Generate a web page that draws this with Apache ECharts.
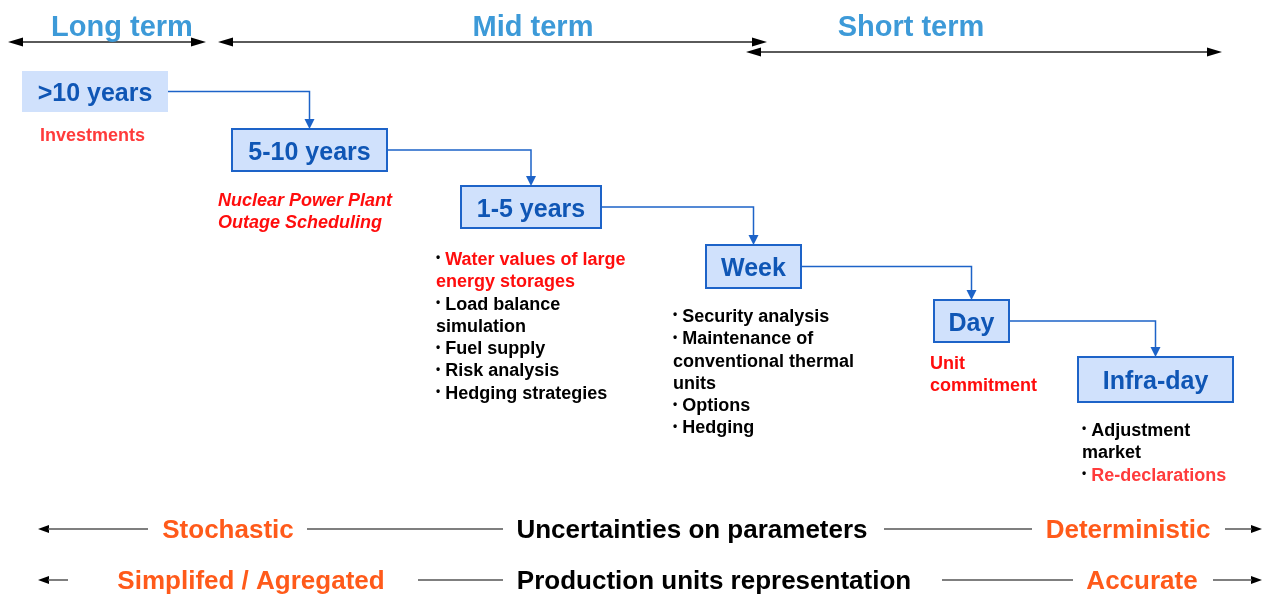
<!DOCTYPE html>
<html><head><meta charset="utf-8">
<script src="https://cdn.jsdelivr.net/npm/echarts@6/dist/echarts.min.js"></script>
<style>html,body{margin:0;padding:0;background:#fff}#chart{width:1271px;height:594px}</style>
</head><body><div id="chart"></div>
<script>
// ---------- data ----------
const termLabels = ['Long term', 'Mid term', 'Short term'];
const termLabelX = [122, 533, 911];
const termArrowX0 = [8, 218, 746];
const termArrowX1 = [206, 767, 1222];
const termArrowY = [42, 42, 52];

const stageLabels = ['>10 years', '5-10 years', '1-5 years', 'Week', 'Day', 'Infra-day'];
const stageX0 = [22, 232, 461, 706, 934, 1078];
const stageY0 = [71, 129, 186, 245, 300, 357];
const stageX1 = [168, 387, 601, 801, 1009, 1233];
const stageY1 = [112, 171, 228, 288, 342, 402];

const noteX = [40, 218, 436, 673, 930, 1082];
const noteY = [134, 199, 258, 315, 362, 429];
const noteLines = [
  ['Investments'],
  ['Nuclear Power Plant', 'Outage Scheduling'],
  ['• Water values of large', 'energy storages', '• Load balance', 'simulation', '• Fuel supply', '• Risk analysis', '• Hedging strategies'],
  ['• Security analysis', '• Maintenance of', 'conventional thermal', 'units', '• Options', '• Hedging'],
  ['Unit', 'commitment'],
  ['• Adjustment', 'market', '• Re-declarations']
];
const noteTone = [
  ['soft'],
  ['alertItalic', 'alertItalic'],
  ['alert', 'alert', 'plain', 'plain', 'plain', 'plain', 'plain'],
  ['plain', 'plain', 'plain', 'plain', 'plain', 'plain'],
  ['alert', 'alert'],
  ['plain', 'plain', 'soft']
];

const scaleLeft = ['Stochastic', 'Simplifed / Agregated'];
const scaleMid = ['Uncertainties on parameters', 'Production units representation'];
const scaleRight = ['Deterministic', 'Accurate'];
const scaleY = [529, 580];
const scaleLeftX = [228, 251];
const scaleMidX = [692, 714];
const scaleRightX = [1128, 1142];
const scaleSegments = [
  [[38, 148], [307, 503], [884, 1032], [1225, 1262]],
  [[38, 68], [418, 503], [942, 1073], [1213, 1262]]
];

// ---------- style ----------
const FONT = '"Liberation Sans", Arial, Helvetica, sans-serif';
const C = {
  term: '#3d9ad8', boxFill: '#d0e1fc', boxStroke: '#1d63c8', boxText: '#0f56b5',
  conn: '#1d63c8', alert: '#ff0d0d', soft: '#ff3b3b', plain: '#000000',
  orange: '#ff5a1a', axisLine: '#555555', head: '#000000'
};
const LINE_STEP = 22.3;

function head(tip, dir, L, Wd, color) {
  const [tx, ty] = tip, [dx, dy] = dir, nx = -dy, ny = dx;
  return { type: 'polygon', shape: { points: [[tx, ty], [tx - dx * L + nx * Wd, ty - dy * L + ny * Wd], [tx - dx * L - nx * Wd, ty - dy * L - ny * Wd]] }, style: { fill: color } };
}

const chart = echarts.init(document.getElementById('chart'), null, { renderer: 'canvas' });

const termData = termLabels.map((_, i) => [termArrowX0[i], termArrowY[i], termArrowX1[i], i]);
const stageData = stageLabels.map((_, i) => [stageX0[i], stageY0[i], stageX1[i], stageY1[i], i]);
const connData = stageLabels.slice(1).map((_, i) =>
  [stageX1[i], (stageY0[i] + stageY1[i]) / 2, (stageX0[i + 1] + stageX1[i + 1]) / 2, stageY0[i + 1]]);
const noteData = noteLines.map((_, i) => [noteX[i], noteY[i], i]);
const scaleData = scaleY.map((y, i) => [scaleMidX[i], y, i]);

chart.setOption({
  animation: false,
  grid: { left: 0, right: 0, top: 0, bottom: 0 },
  xAxis: { type: 'value', min: 0, max: 1271, show: false },
  yAxis: { type: 'value', min: 0, max: 594, inverse: true, show: false },
  series: [
    { // term arrows + titles
      type: 'custom', clip: false, data: termData, encode: { x: [0, 2], y: 1 },
      renderItem(params, api) {
        const i = api.value(3);
        const a = api.coord([api.value(0), api.value(1)]);
        const b = api.coord([api.value(2), api.value(1)]);
        const L = 15, Wd = 4.5;
        const t = api.coord([termLabelX[i], 25]);
        return { type: 'group', children: [
          { type: 'line', shape: { x1: a[0] + L - 1, y1: a[1], x2: b[0] - L + 1, y2: b[1] }, style: { stroke: '#5a5a5a', lineWidth: 2 } },
          head(a, [-1, 0], L, Wd, C.head),
          head(b, [1, 0], L, Wd, C.head),
          { type: 'text', x: t[0], y: t[1] + 3, style: { text: termLabels[i], font: 'bold 29px ' + FONT, fill: C.term, align: 'center', verticalAlign: 'middle' } }
        ] };
      }
    },
    { // connectors
      type: 'custom', clip: false, data: connData, encode: { x: [0, 2], y: [1, 3] },
      renderItem(params, api) {
        const a = api.coord([api.value(0), api.value(1)]);
        const b = api.coord([api.value(2), api.value(1)]);
        const c = api.coord([api.value(2), api.value(3)]);
        return { type: 'group', children: [
          { type: 'polyline', shape: { points: [a, b, [c[0], c[1] - 9]] }, style: { stroke: C.conn, lineWidth: 1.5, fill: null } },
          head(c, [0, 1], 10, 5, C.conn)
        ] };
      }
    },
    { // stage boxes
      type: 'custom', clip: false, data: stageData, encode: { x: [0, 2], y: [1, 3] },
      renderItem(params, api) {
        const i = api.value(4);
        const p0 = api.coord([api.value(0), api.value(1)]);
        const p1 = api.coord([api.value(2), api.value(3)]);
        const bordered = i > 0;
        return { type: 'group', children: [
          { type: 'rect', shape: { x: p0[0], y: p0[1], width: p1[0] - p0[0], height: p1[1] - p0[1] },
            style: { fill: C.boxFill, stroke: bordered ? C.boxStroke : null, lineWidth: 2 } },
          { type: 'text', x: (p0[0] + p1[0]) / 2, y: (p0[1] + p1[1]) / 2 + 3,
            style: { text: stageLabels[i], font: 'bold 25px ' + FONT, fill: C.boxText, align: 'center', verticalAlign: 'middle' } }
        ] };
      }
    },
    { // notes
      type: 'custom', clip: false, data: noteData, encode: { x: 0, y: 1 },
      renderItem(params, api) {
        const i = api.value(2);
        const p = api.coord([api.value(0), api.value(1)]);
        const children = noteLines[i].map((line, k) => {
          const tone = noteTone[i][k];
          const color = tone === 'soft' ? C.soft : (tone === 'plain' ? C.plain : C.alert);
          const italic = tone === 'alertItalic';
          const base = { fontSize: 18, fontWeight: 'bold', fontFamily: FONT, fill: color, fontStyle: italic ? 'italic' : 'normal' };
          const text = line.startsWith('• ') ? '{b|•} {t|' + line.slice(2) + '}' : '{t|' + line + '}';
          const rich = { b: { fontSize: 12, fontWeight: 'bold', fontFamily: FONT, fill: '#000', padding: [0, 0, 4, 0] }, t: base };
          return { type: 'text', x: p[0], y: p[1] + k * LINE_STEP + 2,
            style: { text, rich, font: 'bold 18px ' + FONT, fill: color, align: 'left', verticalAlign: 'middle' } };
        });
        return { type: 'group', children };
      }
    },
    { // bottom scales
      type: 'custom', clip: false, data: scaleData, encode: { x: 0, y: 1 },
      renderItem(params, api) {
        const i = api.value(2);
        const y = api.value(1);
        const children = [];
        const segs = scaleSegments[i];
        segs.forEach((s, k) => {
          const a = api.coord([s[0], y]), b = api.coord([s[1], y]);
          let x1 = a[0], x2 = b[0];
          if (k === 0) { children.push(head(a, [-1, 0], 11, 4, C.head)); x1 += 10; }
          if (k === segs.length - 1) { children.push(head(b, [1, 0], 11, 4, C.head)); x2 -= 10; }
          children.push({ type: 'line', shape: { x1, y1: a[1], x2, y2: b[1] }, style: { stroke: C.axisLine, lineWidth: 1.5 } });
        });
        const f = 'bold 26px ' + FONT;
        const pl = api.coord([scaleLeftX[i], y]), pm = api.coord([scaleMidX[i], y]), pr = api.coord([scaleRightX[i], y]);
        children.push({ type: 'text', x: pl[0], y: pl[1] + 2, style: { text: scaleLeft[i], font: f, fill: C.orange, align: 'center', verticalAlign: 'middle' } });
        children.push({ type: 'text', x: pm[0], y: pm[1] + 2, style: { text: scaleMid[i], font: f, fill: '#000', align: 'center', verticalAlign: 'middle' } });
        children.push({ type: 'text', x: pr[0], y: pr[1] + 2, style: { text: scaleRight[i], font: f, fill: C.orange, align: 'center', verticalAlign: 'middle' } });
        return { type: 'group', children };
      }
    }
  ]
});
</script>
</body></html>
